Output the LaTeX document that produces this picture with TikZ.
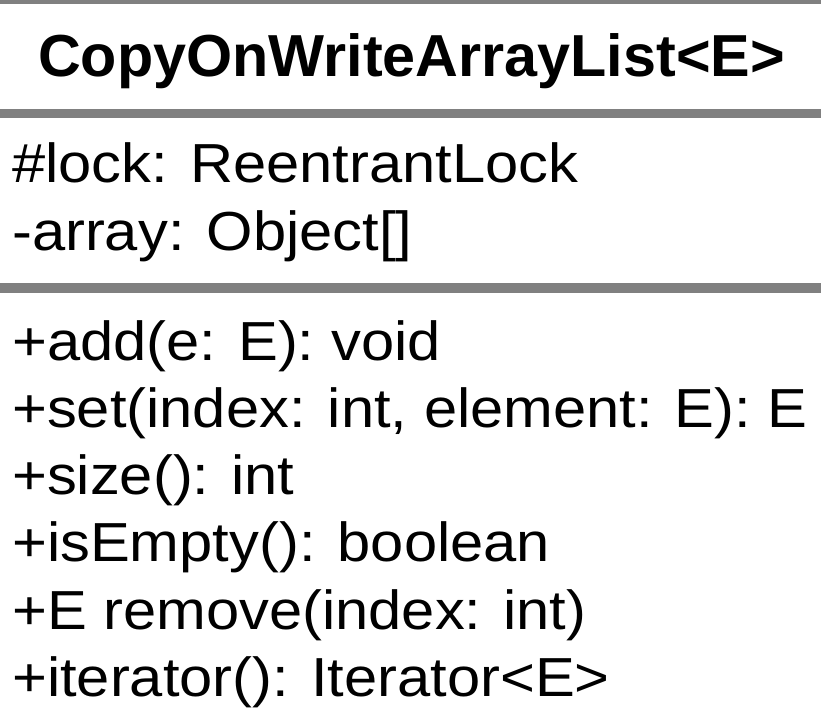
\documentclass[tikz,border=0pt]{standalone}
\usepackage{fontspec}
\setmainfont{Liberation Sans}
\newfontfamily\bodyfont[FakeStretch=1.085]{Liberation Sans}
\definecolor{sepgray}{HTML}{808080}
\begin{document}
\begin{tikzpicture}[x=1pt,y=-1pt,
  member/.style={anchor=base west, inner sep=0pt, font=\bodyfont\fontsize{55}{67}\selectfont},
  titlestyle/.style={anchor=base, inner sep=0pt, font=\bfseries\fontsize{59.3}{70}\selectfont},
  sepline/.style={draw=sepgray, line width=9.3pt}]
\useasboundingbox (0,0) rectangle (821,718);
\fill[white] (0,0) rectangle (821,718);
% separators
\draw[sepline] (0,-1) -- (821,-1);
\draw[sepline] (0,113.7) -- (821,113.7);
\draw[sepline] (0,288) -- (821,288);
% title
\node[titlestyle] (title) at (411.5,76) {CopyOnWriteArrayList<E>};
% attributes
\node[member] (a1) at (12,182) {\#lock: ReentrantLock};
\node[member] (a2) at (12,250) {-array: Object[]};
% methods
\node[member] (m1) at (12,360) {+add(e: E): void};
\node[member] (m2) at (12,427) {+set(index: int, element: E): E};
\node[member] (m3) at (12,494) {+size(): int};
\node[member] (m4) at (12,561) {+isEmpty(): boolean};
\node[member] (m5) at (12,629) {+E remove(index: int)};
\node[member] (m6) at (12,696) {+iterator(): Iterator<E>};
\end{tikzpicture}
\end{document}
